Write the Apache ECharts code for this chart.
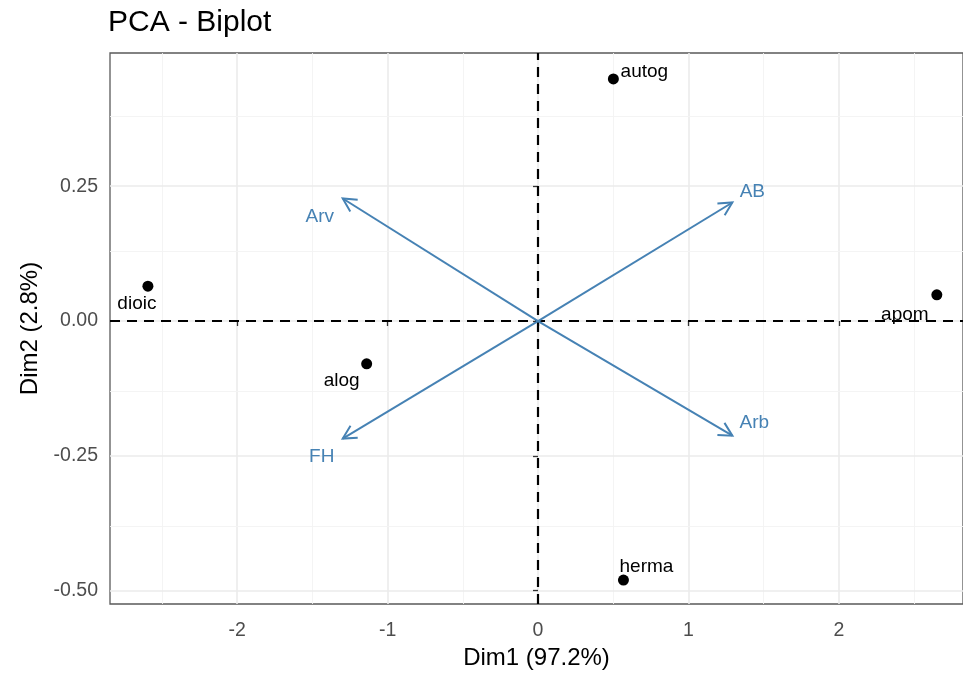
<!DOCTYPE html>
<html>
<head>
<meta charset="utf-8">
<script src="https://cdn.jsdelivr.net/npm/echarts@6/dist/echarts.min.js"></script>
<style>html,body{margin:0;padding:0;background:#fff}#c{width:963px;height:675px}</style>
</head>
<body>
<div id="c"></div>
<script>
// ---- data ----
var indNames = ['autog', 'dioic', 'alog', 'apom', 'herma'];
var indX = [0.501, -2.593, -1.139, 2.651, 0.568];
var indY = [0.449, 0.0647, -0.0794, 0.0486, -0.4803];
var varNames = ['AB', 'Arv', 'FH', 'Arb'];
var varX = [1.292, -1.298, -1.298, 1.292];
var varY = [0.2198, 0.2272, -0.2180, -0.2125];
var xTicks = [-2, -1, 0, 1, 2];
var yTicks = [-0.5, -0.25, 0, 0.25];
var xMinor = [-2.5, -1.5, -0.5, 0.5, 1.5, 2.5];
var yMinor = [-0.375, -0.125, 0.125, 0.375];
var xRange = [-2.845, 2.825];
var yRange = [-0.5247, 0.497];

// ---- label placement (pixel offsets) ----
var indLabelOffset = {autog: [31, -7], dioic: [-11, 18], alog: [-25, 17], apom: [-32, 20], herma: [23, -13]};
var varLabelOffset = {AB: [20, -11], Arv: [-23, 18], FH: [-21, 18], Arb: [22, -13]};

var FONT = '"Liberation Sans", Arial, Helvetica, sans-serif';
var ARROW = '#4682B4';

function fmtY(v) {
  return v.toFixed(2);
}

var gridLines = [];
xTicks.forEach(function (v) { gridLines.push({xAxis: v, lineStyle: {color: '#ebebeb', width: 1.6, type: 'solid'}}); });
xMinor.forEach(function (v) { gridLines.push({xAxis: v, lineStyle: {color: '#f3f3f3', width: 0.9, type: 'solid'}}); });
yTicks.forEach(function (v) { gridLines.push({yAxis: v, lineStyle: {color: '#ebebeb', width: 1.6, type: 'solid'}}); });
yMinor.forEach(function (v) { gridLines.push({yAxis: v, lineStyle: {color: '#f3f3f3', width: 0.9, type: 'solid'}}); });

var indData = indNames.map(function (n, i) {
  return {
    name: n, value: [indX[i], indY[i]],
    label: {offset: indLabelOffset[n]}
  };
});
var varData = varNames.map(function (n, i) {
  return {
    name: n, value: [varX[i], varY[i]],
    label: {offset: varLabelOffset[n]}
  };
});

var chart = echarts.init(document.getElementById('c'), null, {renderer: 'canvas'});
chart.setOption({
  animation: false,
  backgroundColor: '#fff',
  title: {
    text: 'PCA - Biplot', left: 108, top: 8, padding: 0,
    textStyle: {fontFamily: FONT, fontSize: 30, fontWeight: 'normal', color: '#000'}
  },
  grid: {
    left: 110, right: -1, top: 53, bottom: 69,
    show: true, borderColor: '#5a5a5a', borderWidth: 1.3, backgroundColor: 'transparent'
  },
  xAxis: {
    type: 'value', min: xRange[0], max: xRange[1],
    name: 'Dim1 (97.2%)', nameLocation: 'middle', nameGap: 42,
    nameTextStyle: {fontFamily: FONT, fontSize: 24, color: '#000'},
    axisLine: {show: false},
    axisTick: {show: true, length: 5, customValues: xTicks, lineStyle: {color: '#333', width: 1.3}},
    axisLabel: {customValues: xTicks, fontFamily: FONT, fontSize: 19.5, color: '#4d4d4d', margin: 17,
      formatter: function (v) { return String(Math.round(v)); }},
    splitLine: {show: false}
  },
  yAxis: {
    type: 'value', min: yRange[0], max: yRange[1],
    name: 'Dim2 (2.8%)', nameLocation: 'middle', nameGap: 68, nameRotate: 90,
    nameTextStyle: {fontFamily: FONT, fontSize: 24, color: '#000'},
    axisLine: {show: false},
    axisTick: {show: true, length: 5, customValues: yTicks, lineStyle: {color: '#333', width: 1.3}},
    axisLabel: {customValues: yTicks, fontFamily: FONT, fontSize: 19.5, color: '#4d4d4d', margin: 12,
      formatter: fmtY},
    splitLine: {show: false}
  },
  series: [
    {
      type: 'scatter', data: [], z: 0, silent: true,
      markLine: {z: 0, silent: true, symbol: 'none', label: {show: false}, animation: false, data: gridLines}
    },
    {
      type: 'scatter', data: [], z: 1, silent: true,
      markLine: {
        z: 1, silent: true, symbol: 'none', label: {show: false}, animation: false,
        lineStyle: {color: '#000', width: 2.2, type: [10, 7], opacity: 1},
        data: [{xAxis: 0}, {yAxis: 0}]
      }
    },
    {
      type: 'custom', z: 3, silent: true,
      data: varData,
      renderItem: function (params, api) {
        var s = api.coord([0, 0]);
        var e = api.coord([api.value(0), api.value(1)]);
        var ang = Math.atan2(e[1] - s[1], e[0] - s[0]);
        var L = 15, a = Math.PI / 6.5;
        var p1 = [e[0] - L * Math.cos(ang - a), e[1] - L * Math.sin(ang - a)];
        var p2 = [e[0] - L * Math.cos(ang + a), e[1] - L * Math.sin(ang + a)];
        var st = {stroke: ARROW, lineWidth: 2, fill: null};
        return {
          type: 'group',
          children: [
            {type: 'line', shape: {x1: s[0], y1: s[1], x2: e[0], y2: e[1]}, style: st},
            {type: 'polyline', shape: {points: [p1, e, p2]}, style: st}
          ]
        };
      }
    },
    {
      type: 'scatter', z: 4, silent: true, symbolSize: 0,
      itemStyle: {opacity: 1},
      data: varData,
      label: {show: true, position: 'inside', formatter: '{b}', fontFamily: FONT, fontSize: 19, color: ARROW}
    },
    {
      type: 'scatter', z: 5, silent: true, symbolSize: 11,
      itemStyle: {color: '#000', opacity: 1},
      data: indData,
      label: {show: true, position: 'inside', formatter: '{b}', fontFamily: FONT, fontSize: 19, color: '#000'}
    }
  ]
});
</script>
</body>
</html>
